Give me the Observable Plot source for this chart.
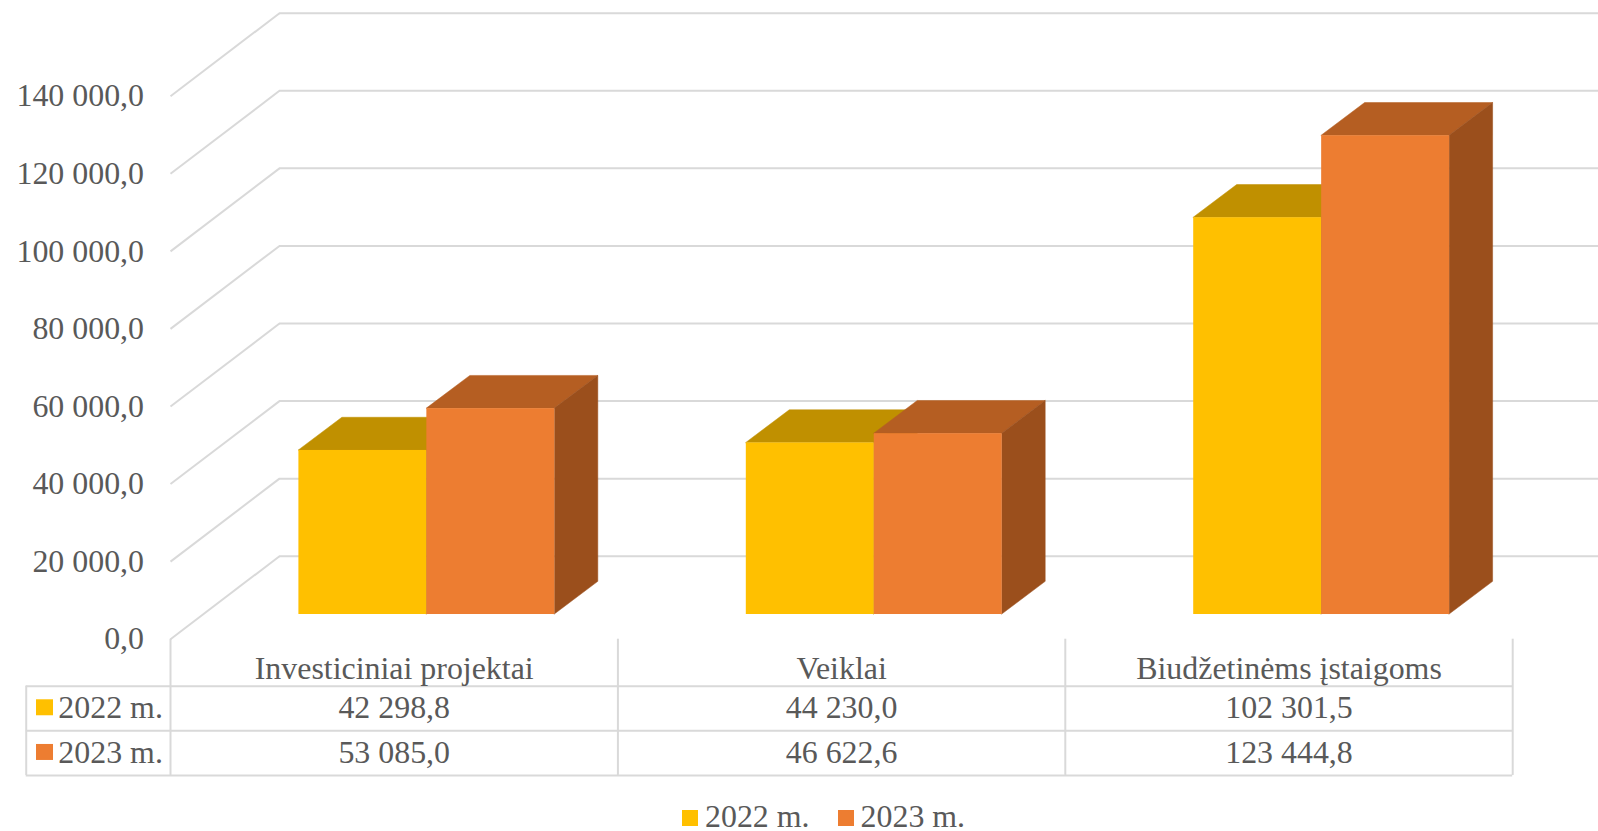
<!DOCTYPE html>
<html lang="lt">
<head>
<meta charset="utf-8">
<script src="https://cdn.jsdelivr.net/npm/d3@7"></script>
<script src="https://cdn.jsdelivr.net/npm/@observablehq/plot@0.6"></script>
<style>
  html, body { margin: 0; padding: 0; background: #fff; overflow: hidden; }
  svg { display: block; }
  #legend { display: flex; height: 23px; padding-left: 682px; align-items: center; box-sizing: border-box;
    font: 31.9px/23px "Liberation Serif", serif; color: #595959; }
  #legend span.item { display: flex; align-items: center; margin-right: 28px; }
  #legend i { display: inline-block; width: 16px; height: 16px; margin-right: 7px; position: relative; top: 1.5px; }
</style>
</head>
<body>
<div id="chart"></div>
<div id="legend"></div>
<script>
const categories = ["Investiciniai projektai", "Veiklai", "Biudžetinėms įstaigoms"];
const seriesNames = ["2022 m.", "2023 m."];
const values2022 = [42298.8, 44230.0, 102301.5];
const values2023 = [53085.0, 46622.6, 123444.8];
const yTicks = [0, 20000, 40000, 60000, 80000, 100000, 120000, 140000];
const frontColors = ["#FFC000", "#ED7D31"];
const topColors = ["#C09000", "#B55E22"];
const sideColors = ["#A37B00", "#9B4F1C"];

const fmt = d3.formatLocale({decimal: ",", thousands: "\u00a0", grouping: [3], currency: ["", ""]}).format(",.1f");

// Geometry of the 3-D box, in scale units (x: categories, y: values)
const wallDx = 0.2436, wallDy = 21392;
const barDx = 0.0972, barDy = 8428, barBase = 6366;
const barStart = [0.287, 0.573];
const barEnd = [0.573, 0.859];
const xRight = 3.192;
const tableLeft = -0.3225;
const tableLines = [-12113, -23608, -35129];
const categoryY = -7500, rowY = [-17680, -29201];
const labelX = -0.017;
const swatchX = [-0.2995, -0.2615], swatchHalf = 2062;

const grid = "#d9d9d9", ink = "#595959";
const lineWidth = 2;

const series = [values2022, values2023];
const bars = series.flatMap((vals, s) => vals.map((v, i) => ({
  s, i, v,
  l: i + barStart[s], r: i + barEnd[s],
  b: barBase, t: barBase + v
})));
function face(rows, fn) {
  return rows.flatMap((d, k) => fn(d).map(p => ({...p, key: k, s: d.s})));
}
const sideFaces = s => face(bars.filter(d => d.s === s), d => [
  {x1: d.r, y1: d.b, x2: d.r, y2: d.t},
  {x1: d.r + barDx, y1: d.b + barDy, x2: d.r + barDx, y2: d.t + barDy}
]);
const topFaces = s => face(bars.filter(d => d.s === s), d => [
  {x1: d.l, y1: d.t, x2: d.r, y2: d.t},
  {x1: d.l + barDx, y1: d.t + barDy, x2: d.r + barDx, y2: d.t + barDy}
]);
const areaOpts = (color) => ({x1: "x1", y1: "y1", x2: "x2", y2: "y2", z: "key", fill: color, stroke: color, strokeWidth: 0.5});

const cells = series.flatMap((vals, s) => vals.map((v, i) => ({x: i + 0.5, y: rowY[s], t: fmt(v)})));

const svgTextStyle = {fontFamily: "Liberation Serif, serif", fontSize: 31.9, fill: ink};

const chart = Plot.plot({
  width: 1598,
  height: 805,
  marginLeft: 170,
  marginRight: 0,
  marginTop: 0,
  marginBottom: 0,
  style: {fontFamily: "Liberation Serif, serif", background: "#fff"},
  x: {domain: [0, 3], range: [170, 1512.2], axis: null},
  y: {domain: [0, 140000], range: [638.7, 95.7]},
  marks: [
    // back wall gridlines and side-wall diagonals
    Plot.ruleY(yTicks, {y: d => d + wallDy, x1: wallDx, x2: xRight, stroke: grid, strokeWidth: lineWidth}),
    Plot.link(yTicks, {x1: 0, y1: d => d, x2: wallDx, y2: d => d + wallDy, stroke: grid, strokeWidth: lineWidth}),
    // 2022 bars
    Plot.area(topFaces(0), areaOpts(topColors[0])),
    Plot.area(sideFaces(0), areaOpts(sideColors[0])),
    Plot.rect(bars.filter(d => d.s === 0), {x1: "l", x2: "r", y1: "b", y2: "t", fill: frontColors[0]}),
    // 2023 bars
    Plot.area(topFaces(1), areaOpts(topColors[1])),
    Plot.area(sideFaces(1), areaOpts(sideColors[1])),
    Plot.rect(bars.filter(d => d.s === 1), {x1: "l", x2: "r", y1: "b", y2: "t", fill: frontColors[1]}),
    // value axis
    Plot.axisY({
      ticks: yTicks, tickFormat: fmt, tickSize: 0, tickPadding: 26.5, label: null, anchor: "left",
      fontSize: 31.9, fill: ink, textStroke: "none"
    }),
    // data table rules
    Plot.ruleY(tableLines, {x1: tableLeft, x2: 3, stroke: grid, strokeWidth: lineWidth}),
    Plot.ruleX([0, 1, 2, 3], {y1: 0, y2: tableLines[2], stroke: grid, strokeWidth: lineWidth}),
    Plot.ruleX([tableLeft], {y1: tableLines[0], y2: tableLines[2], stroke: grid, strokeWidth: lineWidth}),
    // data table text
    Plot.text(categories, {x: (d, i) => i + 0.5, y: categoryY, text: d => d, ...svgTextStyle, lineAnchor: "middle"}),
    Plot.text(cells, {x: "x", y: "y", text: "t", ...svgTextStyle, lineAnchor: "middle"}),
    Plot.text(seriesNames, {x: labelX, y: (d, i) => rowY[i], text: d => d, textAnchor: "end", ...svgTextStyle, lineAnchor: "middle"}),
    // series swatches in the table
    Plot.rect(seriesNames, {
      x1: swatchX[0], x2: swatchX[1],
      y1: (d, i) => rowY[i] - swatchHalf, y2: (d, i) => rowY[i] + swatchHalf,
      fill: (d, i) => frontColors[i]
    })
  ]
});
document.getElementById("chart").appendChild(chart);

const legend = document.getElementById("legend");
seriesNames.forEach((name, i) => {
  const it = document.createElement("span");
  it.className = "item";
  const sw = document.createElement("i");
  sw.style.background = frontColors[i];
  it.appendChild(sw);
  it.appendChild(document.createTextNode(name));
  legend.appendChild(it);
});
</script>
</body>
</html>
